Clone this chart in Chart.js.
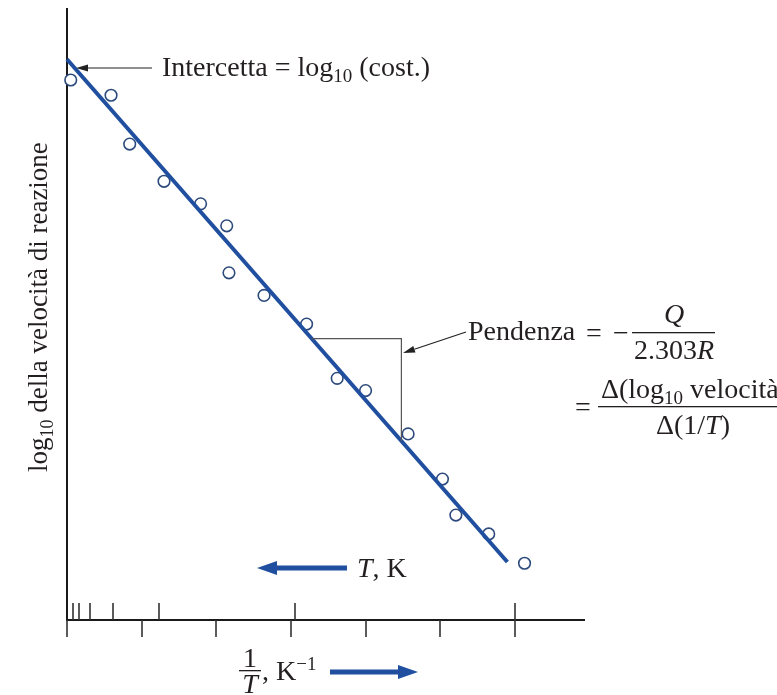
<!DOCTYPE html>
<html>
<head>
<meta charset="utf-8">
<script src="https://cdn.jsdelivr.net/npm/chart.js@4/dist/chart.umd.min.js"></script>
<style>
  html, body { margin: 0; padding: 0; background: #fff; }
  canvas { display: block; }
</style>
</head>
<body>
<canvas id="grafico" width="777" height="695"></canvas>
<script>
// Grafico di Arrhenius: log10 velocità vs 1/T

// punti misurati (1/T in unità arbitrarie, log10 velocità)
const inversoT = [0.05, 0.59, 0.84, 1.30, 1.79, 2.14, 2.17, 2.64, 3.21, 3.62, 4.00, 4.57, 5.03, 5.21, 5.65, 6.13]
const logVelocita = [8.85, 8.60, 7.80, 7.19, 6.82, 6.46, 5.69, 5.32, 4.85, 3.96, 3.76, 3.05, 2.31, 1.72, 1.41, 0.93]

// retta interpolante (estremi)
const rettaX = [0, 5.90]
const rettaY = [9.19, 0.95]

// triangolo della pendenza
const triangoloX = [3.28, 4.48, 4.48]
const triangoloY = [4.61, 4.61, 2.93]

// tacche dell'asse x: sotto (1/T) e sopra (T)
const tacche1suT = [0, 1, 2, 3, 4, 5, 6]
const taccheT = [0.08, 0.16, 0.31, 0.61, 1.23, 3.05, 6.0]

const BLU = '#1f4f9e'
const TESTO = '#231f20'
const SERIF = '"Liberation Serif", "DejaVu Serif", serif'
const F = 28   // corpo del testo
const FS = 19  // pedici / apici

function font(size, italic) {
  return (italic ? 'italic ' : '') + size + 'px ' + SERIF
}

// disegna pezzi di testo uno dopo l'altro: [testo, size, italic, dy]
function testoComposto(ctx, pezzi, x, y) {
  let cx = x
  pezzi.forEach(p => {
    ctx.font = font(p[1], p[2])
    ctx.fillText(p[0], cx, y + (p[3] || 0))
    cx += ctx.measureText(p[0]).width
  })
  return cx
}

function larghezza(ctx, pezzi) {
  let w = 0
  pezzi.forEach(p => {
    ctx.font = font(p[1], p[2])
    w += ctx.measureText(p[0]).width
  })
  return w
}

function freccia(ctx, x1, y1, x2, y2, spessore, lungTesta, mezzaTesta, colore) {
  const ang = Math.atan2(y2 - y1, x2 - x1)
  const bx = x2 - Math.cos(ang) * lungTesta
  const by = y2 - Math.sin(ang) * lungTesta
  ctx.strokeStyle = colore
  ctx.fillStyle = colore
  ctx.lineWidth = spessore
  ctx.beginPath()
  ctx.moveTo(x1, y1)
  ctx.lineTo(bx, by)
  ctx.stroke()
  ctx.beginPath()
  ctx.moveTo(x2, y2)
  ctx.lineTo(bx + Math.sin(ang) * mezzaTesta, by - Math.cos(ang) * mezzaTesta)
  ctx.lineTo(bx - Math.sin(ang) * mezzaTesta, by + Math.cos(ang) * mezzaTesta)
  ctx.closePath()
  ctx.fill()
}

// assi e tacche disegnati dalle scale
const pluginAssi = {
  id: 'assi',
  beforeDatasetsDraw(chart) {
    const ctx = chart.ctx
    const a = chart.chartArea
    const sx = chart.scales.x
    ctx.save()
    ctx.strokeStyle = '#1a1a1a'
    ctx.lineWidth = 2
    ctx.beginPath()
    ctx.moveTo(a.left, a.top)
    ctx.lineTo(a.left, a.bottom)
    ctx.moveTo(a.left - 1, a.bottom)
    ctx.lineTo(a.right, a.bottom)
    ctx.stroke()
    ctx.lineWidth = 1.6
    ctx.strokeStyle = '#333'
    ctx.beginPath()
    tacche1suT.forEach(v => {
      const p = Math.round(sx.getPixelForValue(v))
      ctx.moveTo(p, a.bottom)
      ctx.lineTo(p, a.bottom + 17)
    })
    taccheT.forEach(v => {
      const p = Math.round(sx.getPixelForValue(v))
      ctx.moveTo(p, a.bottom)
      ctx.lineTo(p, a.bottom - 17)
    })
    ctx.stroke()
    ctx.restore()
  },
  afterDraw(chart) {
    const ctx = chart.ctx
    ctx.save()
    ctx.fillStyle = TESTO
    ctx.textBaseline = 'alphabetic'
    ctx.textAlign = 'left'

    // titolo asse y (ruotato)
    ctx.save()
    ctx.translate(47, 472)
    ctx.rotate(-Math.PI / 2)
    testoComposto(ctx, [['log', 27], ['10', 18, false, 6], [' della velocità di reazione', 27]], 0, 0)
    ctx.restore()

    // intercetta
    freccia(ctx, 152, 68, 76, 68, 1.2, 12, 3.5, '#222')
    ctx.fillStyle = TESTO
    testoComposto(ctx, [['Intercetta = log', F], ['10', FS, false, 6], [' (cost.)', F]], 162, 76)

    // pendenza
    freccia(ctx, 466, 332, 403, 353, 1.2, 12, 3.5, '#222')
    ctx.fillStyle = TESTO
    testoComposto(ctx, [['Pendenza', F]], 468, 340)
    testoComposto(ctx, [['=', F]], 586, 342)
    testoComposto(ctx, [['\u2212', F]], 613, 342)
    ctx.fillRect(632, 332, 83, 1.3)
    ctx.textAlign = 'center'
    ctx.font = font(F, true)
    ctx.fillText('Q', 674, 323)
    ctx.textAlign = 'left'
    const den = [['2.303', F], ['R', F, true]]
    testoComposto(ctx, den, 674 - larghezza(ctx, den) / 2, 359)

    testoComposto(ctx, [['=', F]], 575, 416)
    ctx.fillRect(598, 406, 179, 1.3)
    testoComposto(ctx, [['\u0394(log', F], ['10', FS, false, 6], [' velocità)', F]], 601, 398)
    const den2 = [['\u0394(1/', F], ['T', F, true], [')', F]]
    testoComposto(ctx, den2, 693 - larghezza(ctx, den2) / 2, 434)

    // freccia T, K
    freccia(ctx, 347, 568, 257, 568, 5, 20, 7, BLU)
    ctx.fillStyle = TESTO
    testoComposto(ctx, [['T', F, true], [', K', F]], 357, 577)

    // etichetta asse x: 1/T, K^-1
    ctx.textAlign = 'center'
    ctx.font = font(F)
    ctx.fillText('1', 250, 667)
    ctx.fillRect(239, 670, 22, 1.3)
    ctx.font = font(F, true)
    ctx.fillText('T', 250, 693)
    ctx.textAlign = 'left'
    testoComposto(ctx, [[', K', F], ['\u22121', FS, false, -10]], 262, 680)
    freccia(ctx, 330, 672, 418, 672, 5, 20, 7, BLU)

    ctx.restore()
  }
}

const puntiMisurati = inversoT.map((x, i) => ({ x: x, y: logVelocita[i] }))
const puntiRetta = rettaX.map((x, i) => ({ x: x, y: rettaY[i] }))
const puntiTriangolo = triangoloX.map((x, i) => ({ x: x, y: triangoloY[i] }))

new Chart(document.getElementById('grafico'), {
  type: 'scatter',
  data: {
    datasets: [
      {
        label: 'triangolo',
        type: 'line',
        data: puntiTriangolo,
        borderColor: '#555',
        borderWidth: 1.2,
        pointRadius: 0,
        fill: false,
        clip: false,
      },
      {
        label: 'retta',
        type: 'line',
        data: puntiRetta,
        borderColor: BLU,
        borderWidth: 4,
        pointRadius: 0,
        fill: false,
        clip: false,
      },
      {
        label: 'misure',
        data: puntiMisurati,
        pointRadius: 5.8,
        pointBorderWidth: 1.6,
        pointBorderColor: '#2c4a7c',
        pointBackgroundColor: '#ffffff',
        clip: false,
      },
    ],
  },
  options: {
    responsive: false,
    animation: false,
    layout: { padding: { left: 67, top: 8, right: 192, bottom: 75 } },
    plugins: {
      legend: { display: false },
      tooltip: { enabled: false },
    },
    scales: {
      x: { type: 'linear', min: 0, max: 6.94, display: false },
      y: { type: 'linear', min: 0, max: 10.03, display: false },
    },
  },
  plugins: [pluginAssi],
})
</script>
</body>
</html>
